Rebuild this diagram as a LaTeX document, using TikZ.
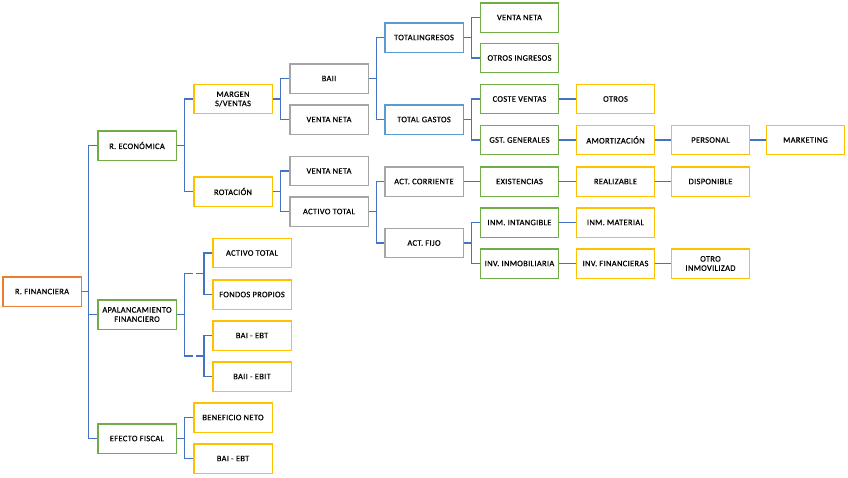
\documentclass[tikz,border=0pt]{standalone}
\usepackage{fontspec}
\setmainfont[LetterSpace=4,FakeBold=0.6]{Carlito}
\definecolor{cOrange}{HTML}{ED7D31}
\definecolor{cGreen}{HTML}{70AD47}
\definecolor{cYellow}{HTML}{FFC000}
\definecolor{cGray}{HTML}{A5A5A5}
\definecolor{cBlue}{HTML}{5B9BD5}
\definecolor{cLine}{HTML}{4472C4}
\tikzset{
  box/.style={draw=#1, line width=1.3pt, fill=white, minimum width=78.3pt, minimum height=29.3pt,
    inner sep=1pt, align=center, font=\fontsize{8.4}{9.2}\selectfont, text=black},
  link/.style={draw=cLine, line width=1.2pt}
}
\begin{document}
\begin{tikzpicture}[x=1pt,y=-1pt]
\useasboundingbox (0,0) rectangle (848,477);
% column 0-2
\node[box=cOrange] (fin) at (42,291.5) {R. FINANCIERA};
\node[box=cGreen] (eco) at (137,145.5) {R. ECONÓMICA};
\node[box=cGreen] (apa) at (137,314.5) {APALANCAMIENTO\\FINANCIERO};
\node[box=cGreen] (efe) at (137,438.5) {EFECTO FISCAL};
\node[box=cYellow] (mar) at (233,99) {MARGEN\\S/VENTAS};
\node[box=cYellow] (rot) at (233,191.5) {ROTACIÓN};
\node[box=cYellow] (at2) at (252,253) {ACTIVO TOTAL};
\node[box=cYellow] (fp) at (252,294.5) {FONDOS PROPIOS};
\node[box=cYellow] (bai1) at (252,335.5) {BAI - EBT};
\node[box=cYellow] (baii2) at (252,376.5) {BAII - EBIT};
\node[box=cYellow] (ben) at (233,417.5) {BENEFICIO NETO};
\node[box=cYellow] (bai2) at (233,458.5) {BAI - EBT};
% column 3
\node[box=cGray] (baii) at (329,78.5) {BAII};
\node[box=cGray] (vn1) at (329,119.5) {VENTA NETA};
\node[box=cGray] (vn2) at (329,171) {VENTA NETA};
\node[box=cGray] (at1) at (329,211.5) {ACTIVO TOTAL};
% column 4
\node[box=cBlue] (ting) at (424,37.5) {TOTALINGRESOS};
\node[box=cBlue] (tgas) at (424,119.5) {TOTAL GASTOS};
\node[box=cGray] (acorr) at (424,181.5) {ACT. CORRIENTE};
\node[box=cGray] (afijo) at (424,243) {ACT. FIJO};
% column 5
\node[box=cGreen] (vn3) at (519.5,17.5) {VENTA NETA};
\node[box=cGreen] (oing) at (519.5,58) {OTROS INGRESOS};
\node[box=cGreen] (cv) at (519.5,99) {COSTE VENTAS};
\node[box=cGreen] (gg) at (519.5,140) {GST. GENERALES};
\node[box=cGreen] (exist) at (519.5,181.5) {EXISTENCIAS};
\node[box=cGreen] (intang) at (519.5,222.5) {INM. INTANGIBLE};
\node[box=cGreen] (inmob) at (519.5,263.5) {INV. INMOBILIARIA};
% column 6-8
\node[box=cYellow] (otros) at (615.5,99) {OTROS};
\node[box=cYellow] (amort) at (615.5,140) {AMORTIZACIÓN};
\node[box=cYellow] (real) at (615.5,181.5) {REALIZABLE};
\node[box=cYellow] (mat) at (615.5,222.5) {INM. MATERIAL};
\node[box=cYellow] (invf) at (615.5,263.5) {INV. FINANCIERAS};
\node[box=cYellow] (pers) at (710.5,140) {PERSONAL};
\node[box=cYellow] (disp) at (710.5,181.5) {DISPONIBLE};
\node[box=cYellow] (otro) at (710.5,263.5) {OTRO\\INMOVILIZAD};
\node[box=cYellow] (mkt) at (805.5,140) {MARKETING};
% connectors
\foreach \c in {eco,apa,efe} \draw[link] (fin.east) -- ++(7,0) |- (\c.west);
\foreach \c in {mar,rot} \draw[link] (eco.east) -- ++(8,0) |- (\c.west);
\foreach \c in {ben,bai2} \draw[link] (efe.east) -- ++(8,0) |- (\c.west);
\foreach \c in {baii,vn1} \draw[link] (mar.east) -- ++(8,0) |- (\c.west);
\foreach \c in {vn2,at1} \draw[link] (rot.east) -- ++(8,0) |- (\c.west);
\foreach \c in {ting,tgas} \draw[link] (baii.east) -- ++(8,0) |- (\c.west);
\foreach \c in {acorr,afijo} \draw[link] (at1.east) -- ++(8,0) |- (\c.west);
\foreach \c in {vn3,oing} \draw[link] (ting.east) -- ++(8,0) |- (\c.west);
\foreach \c in {cv,gg} \draw[link] (tgas.east) -- ++(8,0) |- (\c.west);
\foreach \c in {intang,inmob} \draw[link] (afijo.east) -- ++(8,0) |- (\c.west);
\draw[link] (cv) -- (otros);
\draw[link] (gg) -- (amort);
\draw[link] (amort) -- (pers);
\draw[link] (pers) -- (mkt);
\draw[link] (acorr) -- (exist);
\draw[link] (exist) -- (real);
\draw[link] (real) -- (disp);
\draw[link] (intang) -- (mat);
\draw[link] (inmob) -- (invf);
\draw[link] (invf) -- (otro);
% apalancamiento (split bus)
\coordinate (ga) at (193,273.5);
\coordinate (gb) at (193,356);
\coordinate (ha) at (196,273.5);
\coordinate (hb) at (196,356);
\draw[link] (apa.east) -- ++(8,0) |- (ga);
\draw[link] (apa.east) -- ++(8,0) |- (gb);
\foreach \c in {at2,fp} \draw[link] (ha) -- ++(8,0) |- (\c.west);
\foreach \c in {bai1,baii2} \draw[link] (hb) -- ++(8,0) |- (\c.west);
\end{tikzpicture}
\end{document}
